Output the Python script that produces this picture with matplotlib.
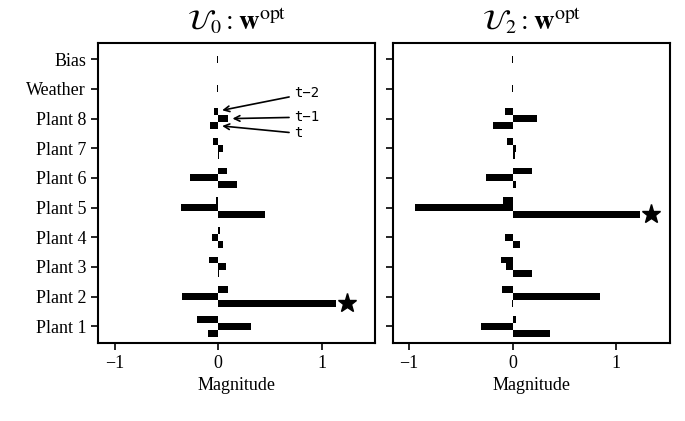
import numpy as np
import matplotlib.pyplot as plt

plt.rcParams['font.family'] = 'Liberation Serif'
plt.rcParams['mathtext.fontset'] = 'stix'

categories = ['Plant 1', 'Plant 2', 'Plant 3', 'Plant 4', 'Plant 5',
              'Plant 6', 'Plant 7', 'Plant 8', 'Weather', 'Bias']
lags = ['t\u22122', 't\u22121', 't']

# weights per category, bottom to top: [t-2, t-1, t]
w_u0 = [
    [-0.20, 0.32, -0.10],
    [0.10, -0.35, 1.14],
    [-0.09, 0.08, 0.01],
    [0.015, -0.055, 0.045],
    [-0.02, -0.36, 0.45],
    [0.085, -0.27, 0.18],
    [-0.045, 0.045, 0.005],
    [-0.035, 0.10, -0.075],
    [0.0, -0.006, 0.0],
    [0.0, -0.006, 0.0],
]
w_u2 = [
    [0.03, -0.31, 0.36],
    [-0.10, 0.84, -0.007],
    [-0.115, -0.06, 0.185],
    [0.005, -0.07, 0.07],
    [-0.09, -0.94, 1.23],
    [0.19, -0.26, 0.03],
    [-0.05, 0.03, 0.02],
    [-0.07, 0.24, -0.19],
    [0.0, -0.006, 0.0],
    [0.0, -0.006, 0.0],
]
titles = [r'$\mathcal{U}_0:\mathbf{w}^{\mathrm{opt}}$',
          r'$\mathcal{U}_2:\mathbf{w}^{\mathrm{opt}}$']
star_pos = [(1.25, 1), (1.34, 4)]  # (x, category index) of the marked weight

fig, axes = plt.subplots(1, 2, figsize=(6.85, 4.21), dpi=100, sharey=True)
fig.subplots_adjust(left=0.143, right=0.978, top=0.898, bottom=0.185, wspace=0.062)

h = 0.7 / 3
offsets = [h, 0, -h]
y = np.arange(len(categories))

for ax, w, title, star in zip(axes, [w_u0, w_u2], titles, star_pos):
    w = np.array(w)
    for k in range(3):
        ax.barh(y + offsets[k], w[:, k], height=h, color='black')
    # star next to the largest weight
    ax.plot(star[0], star[1] - h, marker='*', color='black', markersize=14)
    ax.set_xlim(-1.16, 1.52)
    ax.set_ylim(-0.57, 9.55)
    ax.set_xticks([-1, 0, 1])
    ax.set_xlabel('Magnitude', fontsize=13)
    ax.set_title(title, fontsize=20.5, pad=9)
    ax.tick_params(labelsize=13, width=1.2, length=5)
    for s in ax.spines.values():
        s.set_linewidth(1.5)

axes[0].set_yticks(y)
axes[0].set_yticklabels(categories)

# arrows pointing at the three lags of Plant 8
ax = axes[0]
txt_pos = [(0.74, 7.85), (0.74, 7.05), (0.74, 6.5)]
tips = [(0.04, 7.28), (0.14, 7.0), (0.04, 6.75)]
for lab, tp, tip in zip(lags, txt_pos, tips):
    ax.annotate(lab, xy=tip, xytext=tp, fontsize=10, family='DejaVu Sans Mono',
                va='center', ha='left',
                arrowprops=dict(arrowstyle='->', color='black', lw=1.2, shrinkA=2, shrinkB=0))

fig.savefig('out.png', dpi=100)
